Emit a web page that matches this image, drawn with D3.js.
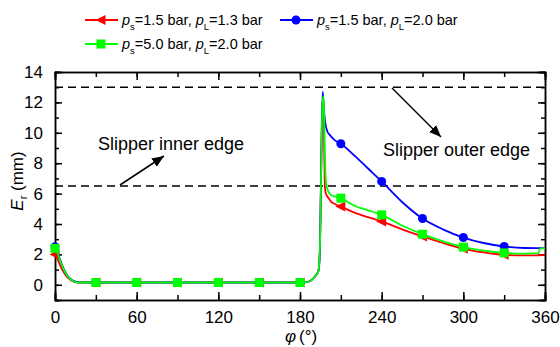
<!DOCTYPE html>
<meta charset="utf-8">
<head>
<style>
body { margin: 0; background: #fff; }
text { font-family: "Liberation Sans", Arial, sans-serif; fill: #000; }
.axis path, .axis line { stroke: #000; stroke-width: 1.5; }
.axis text { font-size: 17px; }
</style>
</head>
<body>
<svg width="560" height="347"></svg>
<script src="https://d3js.org/d3.v7.min.js"></script>
<script>
// data
const phiRed = [0, 1, 3, 5, 7, 9, 11, 14, 17, 30, 60, 90, 120, 150, 180, 185, 188, 191, 193.5, 194.5, 195.3, 196, 196.7, 197.3, 197.8, 198.3, 199, 201, 203, 206, 210, 220, 230, 240, 255, 270, 285, 300, 315, 330, 345, 356, 360];
const eRed   = [2.0, 1.85, 1.45, 1.05, 0.75, 0.5, 0.35, 0.2, 0.15, 0.15, 0.15, 0.15, 0.15, 0.15, 0.15, 0.18, 0.28, 0.55, 0.9, 2.0, 6.0, 10.0, 12.0, 12.2, 9.0, 6.4, 6.0, 5.7, 5.45, 5.3, 5.15, 4.75, 4.45, 4.17, 3.65, 3.18, 2.75, 2.37, 2.13, 1.97, 1.93, 1.93, 2.0];

const phiBlue = [0, 1, 3, 5, 7, 9, 11, 14, 17, 30, 60, 90, 120, 150, 180, 185, 188, 191, 193.5, 194.5, 195.3, 196, 196.7, 197.5, 198.5, 200, 202, 205, 210, 220, 230, 240, 255, 270, 285, 300, 315, 330, 345, 360];
const eBlue   = [2.5, 2.35, 1.85, 1.35, 0.93, 0.62, 0.42, 0.24, 0.16, 0.15, 0.15, 0.15, 0.15, 0.15, 0.15, 0.18, 0.28, 0.55, 0.9, 2.0, 6.0, 10.5, 12.7, 11.6, 10.7, 10.1, 9.85, 9.55, 9.28, 8.5, 7.65, 6.8, 5.45, 4.36, 3.65, 3.11, 2.75, 2.52, 2.42, 2.41];

const phiGreen = [0, 1, 3, 5, 7, 9, 11, 14, 17, 30, 60, 90, 120, 150, 180, 185, 188, 191, 193.5, 194.5, 195.3, 196, 196.7, 197.3, 198, 198.6, 199.3, 201, 203, 206, 210, 220, 230, 240, 255, 270, 285, 300, 315, 330, 345, 355, 356.5, 360];
const eGreen   = [2.4, 2.28, 1.8, 1.3, 0.9, 0.6, 0.4, 0.22, 0.15, 0.15, 0.15, 0.15, 0.15, 0.15, 0.15, 0.18, 0.28, 0.55, 0.9, 2.0, 6.0, 10.2, 12.1, 12.4, 10.0, 7.6, 6.6, 6.1, 5.9, 5.8, 5.7, 5.2, 4.9, 4.6, 3.9, 3.33, 2.85, 2.48, 2.25, 2.1, 2.05, 2.08, 2.38, 2.41];

// marker positions
const markPhi   = [0, 30, 60, 90, 120, 150, 180, 210, 240, 270, 300, 330];
const markRed   = [2.0, 0.15, 0.15, 0.15, 0.15, 0.15, 0.15, 5.15, 4.17, 3.18, 2.37, 1.97];
const markBlue  = [2.5, 0.15, 0.15, 0.15, 0.15, 0.15, 0.15, 9.28, 6.8, 4.36, 3.11, 2.52];
const markGreen = [2.4, 0.15, 0.15, 0.15, 0.15, 0.15, 0.15, 5.7, 4.6, 3.33, 2.48, 2.1];

const xTicks = [0, 60, 120, 180, 240, 300, 360];
const yTicks = [0, 2, 4, 6, 8, 10, 12, 14];
const edgeLines = [13, 6.5];

let svg = d3.select('svg');
let margin = { top: 72, right: 15, bottom: 47, left: 55 };
let width = 560 - margin.left - margin.right;
let height = 347 - margin.top - margin.bottom;

let x = d3.scaleLinear().domain([0, 360]).range([0, width]);
let y = d3.scaleLinear().domain([-1, 14]).range([height, 0]);

let g = svg.append('g')
    .attr('transform', `translate(${margin.left}, ${margin.top})`);

// arrow head
svg.append('defs').append('marker')
    .attr('id', 'arrow')
    .attr('viewBox', '0 0 12 10')
    .attr('refX', 12).attr('refY', 5)
    .attr('markerWidth', 12).attr('markerHeight', 10)
    .attr('markerUnits', 'userSpaceOnUse')
    .attr('orient', 'auto')
  .append('path')
    .attr('d', 'M0,0L12,5L0,10Z')
    .attr('fill', '#000');

// dashed edge lines
g.selectAll('.edge')
    .data(edgeLines)
    .enter().append('line')
        .attr('x1', 0).attr('x2', width)
        .attr('y1', d => y(d)).attr('y2', d => y(d))
        .attr('stroke', '#000')
        .attr('stroke-width', 1.5)
        .attr('stroke-dasharray', '8,5');

// axes: major + minor, ticks inward
let minorX = d3.range(0, 361, 30);
let minorY = d3.range(-1, 15, 1);

g.append('g').attr('class', 'axis')
    .attr('transform', `translate(0, ${height})`)
    .call(d3.axisBottom(x).tickValues(minorX).tickSize(-5).tickFormat(''));
g.append('g').attr('class', 'axis')
    .attr('transform', `translate(0, ${height})`)
    .call(d3.axisBottom(x).tickValues(xTicks).tickSize(-8).tickPadding(11));
g.append('g').attr('class', 'axis')
    .call(d3.axisTop(x).tickValues(minorX).tickSize(-5).tickFormat(''));
g.append('g').attr('class', 'axis')
    .call(d3.axisTop(x).tickValues(xTicks).tickSize(-8).tickFormat(''));

g.append('g').attr('class', 'axis')
    .call(d3.axisLeft(y).tickValues(minorY).tickSize(-4).tickFormat(''));
g.append('g').attr('class', 'axis')
    .call(d3.axisLeft(y).tickValues(yTicks).tickSize(-7).tickPadding(12));
g.append('g').attr('class', 'axis')
    .attr('transform', `translate(${width}, 0)`)
    .call(d3.axisRight(y).tickValues(minorY).tickSize(-4).tickFormat(''));
g.append('g').attr('class', 'axis')
    .attr('transform', `translate(${width}, 0)`)
    .call(d3.axisRight(y).tickValues(yTicks).tickSize(-7).tickFormat(''));

g.selectAll('.axis .domain').attr('stroke-width', 1.5);

// series
let series = [
    { phi: phiRed, e: eRed, m: markRed, color: '#ff0000', shape: 'tri' },
    { phi: phiBlue, e: eBlue, m: markBlue, color: '#0000ff', shape: 'circle' },
    { phi: phiGreen, e: eGreen, m: markGreen, color: '#00ff00', shape: 'square' }
];

let line = d3.line()
    .x(d => x(d[0]))
    .y(d => y(d[1]))
    .curve(d3.curveMonotoneX);

function drawMarker(sel, shape, color) {
    if (shape === 'tri') {
        sel.append('path').attr('d', 'M-5.5,0L4.5,-5L4.5,5Z').attr('fill', color);
    } else if (shape === 'circle') {
        sel.append('circle').attr('r', 4.5).attr('fill', color);
    } else {
        sel.append('rect').attr('x', -4.5).attr('y', -4.5)
            .attr('width', 9).attr('height', 9).attr('fill', color);
    }
}

series.forEach(s => {
    g.append('path')
        .datum(d3.zip(s.phi, s.e))
        .attr('fill', 'none')
        .attr('stroke', s.color)
        .attr('stroke-width', 1.8)
        .attr('d', line);
    g.selectAll(null)
        .data(d3.zip(markPhi, s.m))
        .enter().append('g')
            .attr('transform', d => `translate(${x(d[0])}, ${y(d[1])})`)
            .each(function () { drawMarker(d3.select(this), s.shape, s.color); });
});

// annotations
g.append('text').attr('x', 98 - margin.left).attr('y', 150 - margin.top)
    .style('font-size', '18px').text('Slipper inner edge');
g.append('line')
    .attr('x1', 120 - margin.left).attr('y1', 185 - margin.top)
    .attr('x2', 164 - margin.left).attr('y2', 156 - margin.top)
    .attr('stroke', '#000').attr('stroke-width', 1.5)
    .attr('marker-end', 'url(#arrow)');
g.append('text').attr('x', 383 - margin.left).attr('y', 156 - margin.top)
    .style('font-size', '18px').text('Slipper outer edge');
g.append('line')
    .attr('x1', 392 - margin.left).attr('y1', 88 - margin.top)
    .attr('x2', 441 - margin.left).attr('y2', 137 - margin.top)
    .attr('stroke', '#000').attr('stroke-width', 1.5)
    .attr('marker-end', 'url(#arrow)');

// axis titles
let xt = svg.append('text')
    .attr('x', 301).attr('y', 342)
    .attr('text-anchor', 'middle')
    .style('font-size', '17px');
xt.append('tspan').style('font-style', 'italic').text('φ');
xt.append('tspan').attr('dx', 3).text('(°)');

let yt = svg.append('text')
    .attr('transform', 'translate(23, 181) rotate(-90)')
    .attr('text-anchor', 'middle')
    .style('font-size', '17px');
yt.append('tspan').style('font-style', 'italic').text('E');
yt.append('tspan').attr('dy', 4).style('font-size', '11px').text('r');
yt.append('tspan').attr('dy', -4).text(' (mm)');

// legend
let legendItems = [
    { s: series[0], x: 85, y: 20, ps: '1.5', pl: '1.3' },
    { s: series[1], x: 280, y: 20, ps: '1.5', pl: '2.0' },
    { s: series[2], x: 85, y: 44, ps: '5.0', pl: '2.0' }
];
legendItems.forEach(d => {
    let lg = svg.append('g').attr('transform', `translate(${d.x}, ${d.y})`);
    lg.append('line').attr('x1', 0).attr('x2', 33).attr('y1', 0).attr('y2', 0)
        .attr('stroke', d.s.color).attr('stroke-width', 1.8);
    drawMarker(lg.append('g').attr('transform', 'translate(16, 0)'), d.s.shape, d.s.color);
    let t = lg.append('text').attr('x', 37).attr('y', 5).style('font-size', '14.5px');
    t.append('tspan').style('font-style', 'italic').text('p');
    t.append('tspan').attr('dy', 5).style('font-size', '9.5px').text('s');
    t.append('tspan').attr('dy', -5).text(`=${d.ps} bar, `);
    t.append('tspan').style('font-style', 'italic').text('p');
    t.append('tspan').attr('dy', 5).style('font-size', '9.5px').text('L');
    t.append('tspan').attr('dy', -5).text(`=${d.pl} bar`);
});
</script>
</body>
</html>
